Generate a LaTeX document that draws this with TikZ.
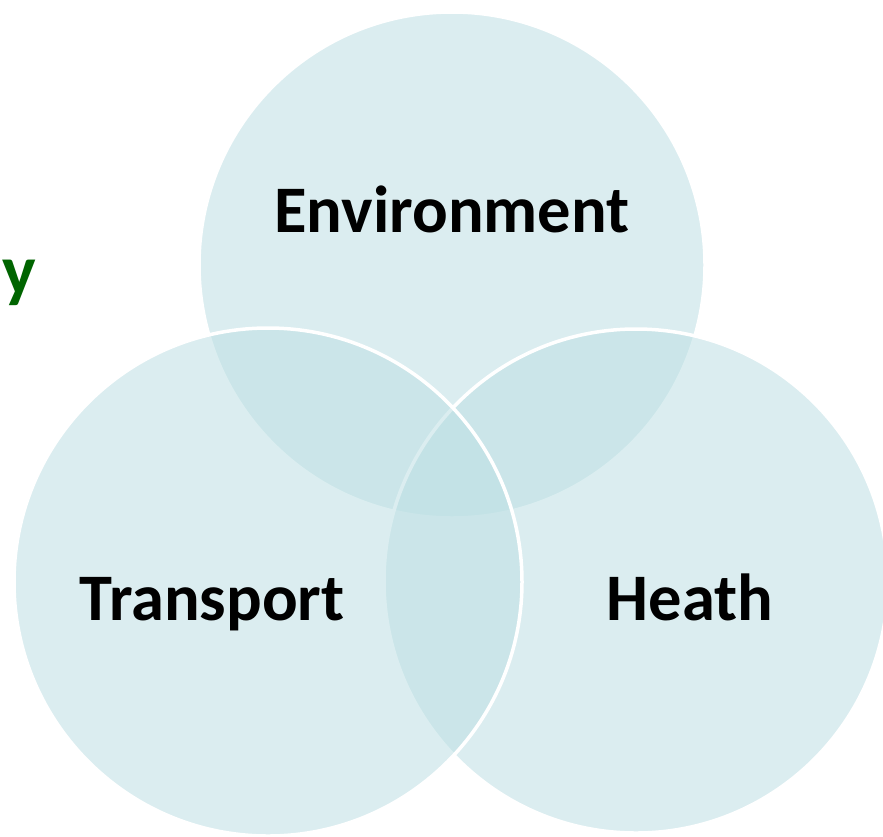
\documentclass[tikz,border=0pt]{standalone}
\usepackage{fontspec}
\setmainfont{Carlito}
\definecolor{vfill}{RGB}{190,224,228}
\definecolor{dgreen}{RGB}{0,100,0}
\begin{document}
\begin{tikzpicture}[x=1pt,y=-1pt,
  venn/.style={fill=vfill,fill opacity=0.55,draw=white,line width=3.5pt,draw opacity=1},
  lbl/.style={font=\fontsize{66.5}{72}\selectfont\bfseries,text=black,inner sep=0pt,anchor=base}]
\useasboundingbox[fill=white] (0,0) rectangle (883,836);
\begin{scope}
\clip (0,0) rectangle (883,836);
\path[venn] (452,265) circle[radius=253];
\path[venn] (636,581) circle[radius=252];
\path[venn] (268,582) circle[radius=254];
\end{scope}
\node[lbl] (env) at (452,232) {Environment};
\node[lbl] (tra) at (212,620) {Transport};
\node[lbl] (hea) at (690,620) {Heath};
\node[font=\fontsize{71}{76}\selectfont\bfseries,text=dgreen,inner sep=0pt,anchor=base east] (y) at (36,294) {y};
\end{tikzpicture}
\end{document}
